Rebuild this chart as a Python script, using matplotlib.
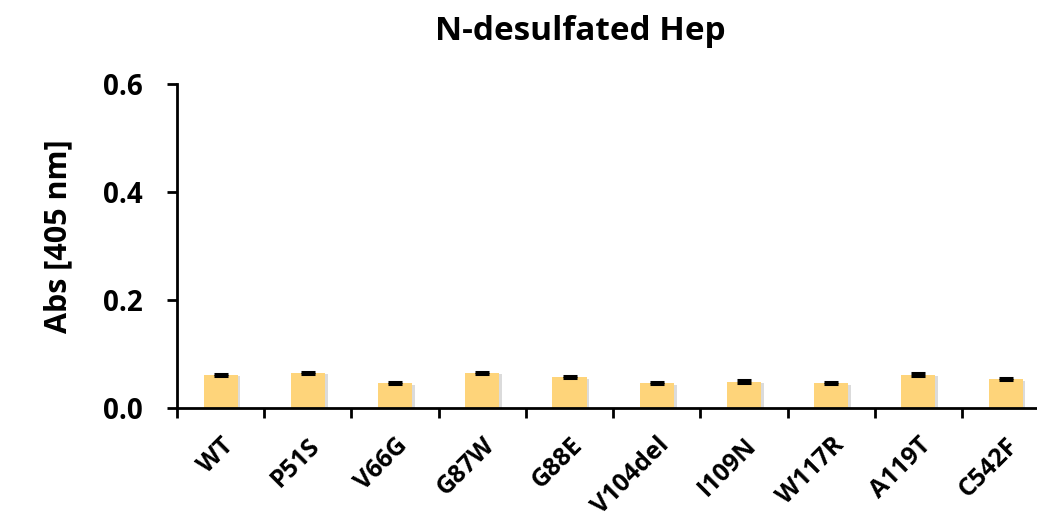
import numpy as np
import matplotlib.pyplot as plt
from matplotlib import patheffects

# Data
variants = ['WT', 'P51S', 'V66G', 'G87W', 'G88E', 'V104del', 'I109N', 'W117R', 'A119T', 'C542F']
abs_405 = [0.061, 0.065, 0.046, 0.065, 0.057, 0.046, 0.049, 0.046, 0.062, 0.053]
abs_err = [0.002, 0.002, 0.002, 0.002, 0.002, 0.002, 0.002, 0.002, 0.002, 0.002]
y_ticks = [0.0, 0.2, 0.4, 0.6]

plt.rcParams['font.family'] = ['Open Sans', 'DejaVu Sans']
plt.rcParams['font.weight'] = 'bold'

fig = plt.figure(figsize=(10.37, 5.22), dpi=100)
ax = fig.add_axes([0.1707, 0.2184, 0.8293, 0.6207])

x = np.arange(len(variants))
shadow = [patheffects.SimplePatchShadow(offset=(2, -1), shadow_rgbFace='#999999', alpha=0.35),
          patheffects.Normal()]
bars = ax.bar(x, abs_405, width=0.39, color='#FED47A', zorder=2)
for b in bars:
    b.set_path_effects(shadow)
ax.errorbar(x, abs_405, yerr=abs_err, fmt='none', ecolor='black',
            elinewidth=1.5, capsize=5, capthick=2.2, zorder=3)

ax.set_ylim(0, 0.6)
ax.set_xlim(-0.5, 9.36)
ax.set_yticks(y_ticks)
ax.set_yticklabels([f'{v:.1f}' for v in y_ticks], fontsize=20, fontweight='bold')

# category ticks sit on the boundaries between bars
ax.set_xticks(x - 0.5)
ax.set_xticklabels([])
ax.set_xticks(x, minor=True)
ax.set_xticklabels(variants, minor=True, rotation=45, ha='right',
                   rotation_mode='anchor', fontsize=18, fontweight='bold')
ax.tick_params(axis='x', which='minor', length=0, pad=18)
ax.tick_params(axis='x', which='major', length=7, width=2, direction='out')
ax.tick_params(axis='y', length=7, width=2, direction='out', pad=18)

for side in ['top', 'right']:
    ax.spines[side].set_visible(False)
for side in ['left', 'bottom']:
    ax.spines[side].set_linewidth(2)

ax.set_ylabel('Abs [405 nm]', fontsize=22, fontweight='bold')
ax.yaxis.set_label_coords(-0.12, 0.53)
fig.text(0.56, 0.94, 'N-desulfated Hep', ha='center', va='center',
         fontsize=24, fontweight='bold')

fig.savefig('out.png', dpi=100)
